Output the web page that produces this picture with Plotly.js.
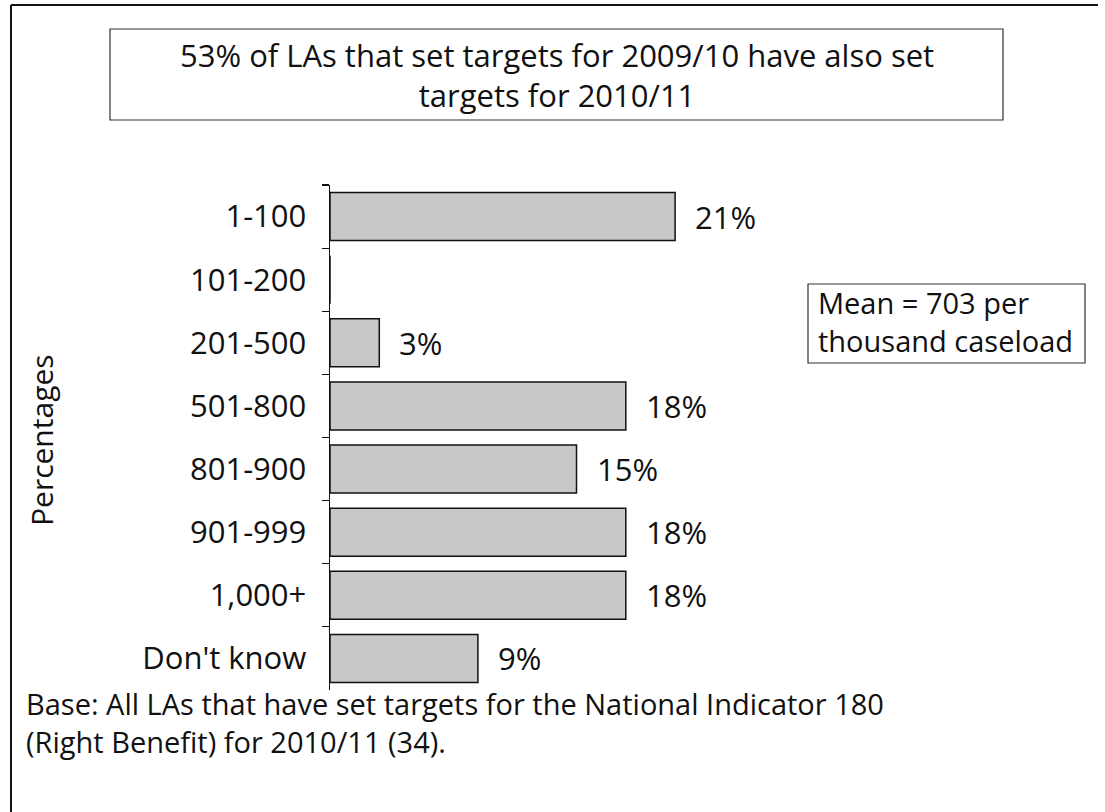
<!DOCTYPE html>
<html>
<head>
<meta charset="utf-8">
<script src="https://cdn.plot.ly/plotly-3.0.1.min.js"></script>
<style>html,body{margin:0;padding:0;background:#fff;}#chart{width:1105px;height:812px;}</style>
</head>
<body>
<div id="chart"></div>
<script>
const categories = ["1-100", "101-200", "201-500", "501-800", "801-900", "901-999", "1,000+", "Don't know"];
const values = [21, 0, 3, 18, 15, 18, 18, 9];
const valueLabels = ["21%", "", "3%", "18%", "15%", "18%", "18%", "9%"];

const titleLines = ["53% of LAs that set targets for 2009/10 have also set", "targets for 2010/11"];
const meanLines = ["Mean = 703 per", "thousand caseload"];
const baseLines = ["Base: All LAs that have set targets for the National Indicator 180", "(Right Benefit) for 2010/11 (34)."];
const yTitle = "Percentages";

const FONT = "Open Sans, Noto Sans, sans-serif";
const INK = "#111";

// pixel -> paper helpers (plot area: x 330..823, y 185..690)
const px = x => (x - 330) / 493;
const py = y => (690 - y) / 505;

const trace = {
  type: "bar",
  orientation: "h",
  y: categories,
  x: values,
  width: 0.76,
  marker: {color: "#c8c8c8", line: {color: INK, width: 1.5}},
  hoverinfo: "skip"
};

const annotations = [];
categories.forEach((c, i) => {
  if (valueLabels[i]) {
    annotations.push({
      x: values[i], y: c, xref: "x", yref: "y",
      text: valueLabels[i], showarrow: false,
      xanchor: "left", xshift: 18, yshift: 0,
      font: {family: FONT, size: 31, color: INK}
    });
  }
});
const addBlock = (lines, xPix, yPix, anchor, size) => {
  annotations.push({
    xref: "paper", yref: "paper", x: px(xPix), y: py(yPix),
    text: lines.join("<br>"), showarrow: false, xanchor: anchor, yanchor: "middle",
    align: anchor === "center" ? "center" : "left",
    font: {family: FONT, size: size, color: INK}
  });
};
addBlock(titleLines, 557, 75, "center", 31);
addBlock(meanLines, 816, 321, "left", 29);
addBlock(baseLines, 24, 722, "left", 29);
annotations.push({
  xref: "paper", yref: "paper", x: px(41), y: py(440),
  text: yTitle, textangle: -90, showarrow: false,
  xanchor: "center", yanchor: "middle",
  font: {family: FONT, size: 30, color: INK}
});

const shapes = [
  {type: "rect", xref: "paper", yref: "paper", x0: px(110), x1: px(1003), y0: py(29), y1: py(120), line: {color: "#333", width: 1.2}},
  {type: "rect", xref: "paper", yref: "paper", x0: px(808), x1: px(1085), y0: py(284), y1: py(363), line: {color: "#333", width: 1.2}},
  {type: "line", xref: "paper", yref: "paper", x0: px(11), x1: px(1098), y0: py(5), y1: py(5), line: {color: INK, width: 2}},
  {type: "line", xref: "paper", yref: "paper", x0: px(11), x1: px(11), y0: py(5), y1: py(812), line: {color: INK, width: 2}}
];

const layout = {
  width: 1105, height: 812,
  margin: {l: 330, r: 282, t: 185, b: 122, pad: 0},
  paper_bgcolor: "#fff", plot_bgcolor: "#fff",
  showlegend: false,
  xaxis: {range: [0, 30], visible: false, fixedrange: true},
  yaxis: {
    type: "category", autorange: "reversed",
    showline: true, linecolor: INK, linewidth: 1.5,
    ticks: "outside", tickson: "boundaries", ticklen: 7, tickcolor: INK, tickwidth: 1.2,
    ticklabelstandoff: 16,
    showgrid: false, zeroline: false,
    tickfont: {family: FONT, size: 31, color: INK}
  },
  annotations: annotations,
  shapes: shapes
};

Plotly.newPlot("chart", [trace], layout, {displayModeBar: false, staticPlot: true});
</script>
</body>
</html>
